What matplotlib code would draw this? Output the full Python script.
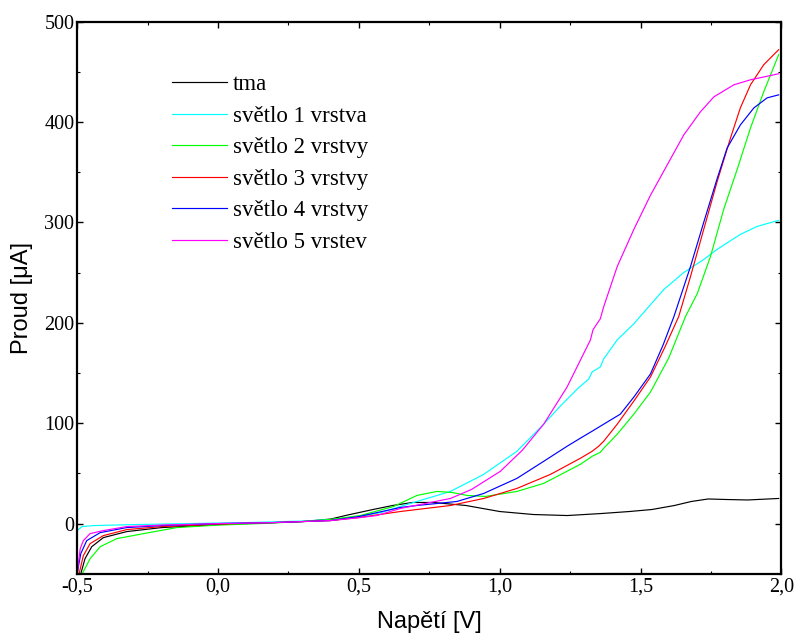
import matplotlib
matplotlib.use("Agg")
import matplotlib.pyplot as plt
from matplotlib.ticker import MultipleLocator, FuncFormatter

# Napětí [V] / Proud [uA]
tma_x = [-0.487, -0.472, -0.448, -0.407, -0.324, -0.2, 0.0, 0.2, 0.3, 0.4, 0.46, 0.55, 0.62, 0.69,
         0.765, 0.88, 1.0, 1.12, 1.24, 1.36, 1.46, 1.54, 1.62, 1.68, 1.74, 1.8, 1.88, 1.99]
tma_y = [-50, -35, -23, -14, -8, -4, -1, 1, 2, 4.5, 8.5, 14, 18, 21,
         21, 18, 12, 9, 8, 10, 12, 14, 18, 22, 24.5, 24, 23.5, 25]

v1_x = [-0.5, -0.483, -0.442, -0.3, -0.1, 0.1, 0.3, 0.4, 0.5, 0.58, 0.647, 0.706, 0.825, 0.943,
        1.061, 1.156, 1.215, 1.275, 1.316, 1.328, 1.357, 1.369, 1.417, 1.476, 1.535, 1.582,
        1.653, 1.724, 1.771, 1.854, 1.914, 1.99]
v1_y = [-7, -3, -2, -1, 0, 1, 2.5, 4, 7, 11, 17, 22, 32, 49,
        72, 99, 117, 134, 144, 151, 156, 164, 183, 199, 218, 233,
        250, 263, 273, 288, 296, 302]

v2_x = [-0.482, -0.454, -0.418, -0.359, -0.264, -0.146, 0.0, 0.15, 0.3, 0.4, 0.505, 0.623, 0.706,
        0.777, 0.83, 0.884, 0.949, 1.061, 1.156, 1.286, 1.328, 1.357, 1.369, 1.417, 1.476, 1.535,
        1.6, 1.659, 1.701, 1.748, 1.795, 1.843, 1.89, 1.937, 1.99]
v2_y = [-50, -35, -23, -15, -10, -4, -1.5, 0, 2, 4, 8, 17, 28,
        32, 31, 28, 27, 32, 40, 59, 67, 71, 75, 89, 109, 131,
        165, 206, 229, 266, 313, 353, 394, 430, 467]

v3_x = [-0.493, -0.478, -0.454, -0.407, -0.324, -0.2, 0.0, 0.2, 0.4, 0.5, 0.647, 0.825, 0.943,
        1.061, 1.18, 1.286, 1.328, 1.351, 1.369, 1.417, 1.476, 1.535, 1.585, 1.635, 1.677, 1.724,
        1.771, 1.819, 1.854, 1.89, 1.937, 1.99]
v3_y = [-50, -32, -20, -12, -6, -3, -0.5, 1, 3, 6, 12, 18, 25,
        35, 49, 65, 72, 77, 82, 99, 122, 146, 175, 206, 246, 293,
        340, 384, 414, 437, 457, 472]

v4_x = [-0.5, -0.487, -0.466, -0.418, -0.324, -0.2, 0.0, 0.2, 0.4, 0.5, 0.647, 0.706, 0.848, 0.943,
        1.061, 1.156, 1.239, 1.286, 1.328, 1.369, 1.428, 1.476, 1.535, 1.58, 1.618, 1.677, 1.724,
        1.771, 1.807, 1.854, 1.902, 1.949, 1.99]
v4_y = [-50, -30, -17, -9, -4, -2, 0, 1, 3, 7, 16, 18, 22, 30,
        45, 62, 77, 85, 92, 99, 109, 126, 149, 178, 206, 256, 300,
        343, 374, 397, 414, 424, 427]

v5_x = [-0.5, -0.489, -0.478, -0.454, -0.407, -0.324, -0.2, 0.0, 0.2, 0.4, 0.505, 0.564, 0.647, 0.825,
        0.9, 1.002, 1.08, 1.156, 1.239, 1.322, 1.331, 1.357, 1.369, 1.381, 1.417, 1.476, 1.535, 1.594,
        1.653, 1.712, 1.76, 1.831, 1.89, 1.99]
v5_y = [-50, -25, -17, -10, -7, -3, -1.5, 0, 1, 3, 6, 8, 15, 25,
        34, 52, 73, 99, 136, 183, 193, 204, 216, 226, 256, 293, 327, 357,
        387, 410, 425, 437, 442, 448]

series = [
    ("tma", tma_x, tma_y, "black"),
    ("světlo 1 vrstva", v1_x, v1_y, "#00ffff"),
    ("světlo 2 vrstvy", v2_x, v2_y, "#00ff00"),
    ("světlo 3 vrstvy", v3_x, v3_y, "#ff0000"),
    ("světlo 4 vrstvy", v4_x, v4_y, "#0000ff"),
    ("světlo 5 vrstev", v5_x, v5_y, "#ff00ff"),
]


def comma(v, pos):
    return f"{v:.1f}".replace(".", ",").replace("−", "-")


fig = plt.figure(figsize=(7.95, 6.34), dpi=100)
ax = fig.add_axes([0.097, 0.095, 0.886, 0.871])

for label, xs, ys, color in series:
    ax.plot(xs, ys, color=color, lw=0.85, label=label)

ax.set_xlim(-0.5, 2.0)
ax.set_ylim(-50, 500)

ax.xaxis.set_major_locator(MultipleLocator(0.5))
ax.xaxis.set_minor_locator(MultipleLocator(0.25))
ax.yaxis.set_major_locator(MultipleLocator(100))
ax.yaxis.set_minor_locator(MultipleLocator(50))
ax.xaxis.set_major_formatter(FuncFormatter(comma))
ax.yaxis.set_major_formatter(FuncFormatter(lambda v, p: f"{v:.0f}"))

for s in ax.spines.values():
    s.set_linewidth(1.6)

ax.tick_params(which="both", direction="in", top=True, right=True)
ax.tick_params(which="major", length=4, width=1, labelsize=14.5, pad=3)
ax.tick_params(which="minor", length=2.5, width=0.8)
for t in ax.get_xticklabels() + ax.get_yticklabels():
    t.set_family("Liberation Serif")
ax.tick_params(axis="y", pad=2)

ax.set_xlabel("Napětí [V]", family="Liberation Sans", fontsize=17, labelpad=10)
ax.set_ylabel("Proud [μA]", family="Liberation Sans", fontsize=17, labelpad=8)

ax.legend(loc="upper left", bbox_to_anchor=(0.135, 0.905), frameon=False,
          prop={"family": "Liberation Serif", "size": 16.5},
          handlelength=2.4, handletextpad=0.25, labelspacing=0.46, borderpad=0,
          borderaxespad=0)

fig.savefig("out.png", dpi=100)
